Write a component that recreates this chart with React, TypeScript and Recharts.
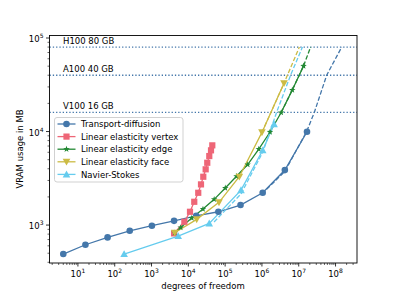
import React from "react";
import { ComposedChart, Line, XAxis, YAxis, ReferenceLine } from "recharts";

const FONT = "DejaVu Sans, sans-serif";

// Transport-diffusion
const tdDof = [4, 16, 64, 256, 1024, 4096, 16384, 65536, 262144, 1048576, 4194304, 16777216];
const tdMb = [490, 616, 738, 869, 984, 1110, 1255, 1388, 1636, 2213, 3872, 9950];
const tdFitDof = [1.0e6, 4.2e6, 1.64e7, 2.65e7, 5.75e7, 1.47e8];
const tdFitMb = [2150, 3750, 10000, 16000, 40000, 80000];

// Linear elasticity vertex
const levDof = [4100, 7800, 11100, 14500, 18600, 22100, 25500, 29600, 32700, 37100, 41300, 44800];
const levMb = [815, 1085, 1387, 1774, 2214, 2722, 3286, 3945, 4637, 5469, 6296, 7117];

// Linear elasticity edge
const leeDof = [4260, 6200, 12400, 25000, 50400, 101000, 204000, 410000, 822000, 1.66e6, 3.33e6, 6.68e6, 1.35e7];
const leeMb = [827, 940, 1188, 1483, 1883, 2490, 3325, 4436, 6500, 9886, 15960, 27800, 50200];
const leeFitDof = [3.33e6, 6.68e6, 1.35e7, 2.1e7];
const leeFitMb = [15960, 27800, 50200, 80000];

// Linear elasticity face
const lefDof = [4260, 16900, 68100, 243000, 1.0e6, 3.98e6];
const lefMb = [827, 1151, 1750, 3290, 9790, 32800];
const lefFitDof = [1.0e6, 3.98e6, 1.04e7];
const lefFitMb = [9790, 32800, 80000];

// Navier-Stokes
const nsDof = [180, 5300, 37000, 270000, 1.05e6, 2.14e6];
const nsMb = [490, 763, 1043, 2366, 6300, 12000];
const nsFitDof = [5e4, 2.7e5, 1.05e6, 2.5e6, 6e6, 1.26e7];
const nsFitMb = [1080, 2150, 6000, 16000, 40000, 80000];

const gpuNames = ["V100 16 GB", "A100 40 GB", "H100 80 GB"];
const gpuMb = [16000, 40000, 80000];

const X_DOMAIN = [1.69, 3.83e8];
const Y_DOMAIN = [393, 107700];

const xDecades = [1, 10, 100, 1e3, 1e4, 1e5, 1e6, 1e7, 1e8];
const yDecades = [100, 1e3, 1e4, 1e5];

const pts = (dof: number[], mb: number[]) => dof.map((x, i) => ({ x, y: mb[i] }));

const series = [
  { name: "Transport-diffusion", color: "#4477AA", shape: "circle", data: pts(tdDof, tdMb), fit: pts(tdFitDof, tdFitMb) },
  { name: "Linear elasticity vertex", color: "#EE6677", shape: "square", data: pts(levDof, levMb), fit: null },
  { name: "Linear elasticity edge", color: "#228833", shape: "star", data: pts(leeDof, leeMb), fit: pts(leeFitDof, leeFitMb) },
  { name: "Linear elasticity face", color: "#CCBB44", shape: "triDown", data: pts(lefDof, lefMb), fit: pts(lefFitDof, lefFitMb) },
  { name: "Navier-Stokes", color: "#66CCEE", shape: "triUp", data: pts(nsDof, nsMb), fit: pts(nsFitDof, nsFitMb) },
];

function logTicks(decades: number[], lo: number, hi: number) {
  const out: number[] = [];
  decades.forEach((d) => {
    for (let k = 1; k <= 9; k++) {
      const v = k * d;
      if (v >= lo && v <= hi) out.push(v);
    }
  });
  return out;
}

const xTicks = logTicks(xDecades, X_DOMAIN[0], X_DOMAIN[1]);
const yTicks = logTicks(yDecades, Y_DOMAIN[0], Y_DOMAIN[1]);

const exponent = (v: number) => {
  const e = Math.log10(v);
  return Math.abs(e - Math.round(e)) < 1e-9 ? Math.round(e) : null;
};

function Marker({ shape, cx, cy, color }: { shape: string; cx: number; cy: number; color: string }) {
  if (cx == null || cy == null) return null;
  if (shape === "circle") return <circle cx={cx} cy={cy} r={3.3} fill={color} />;
  if (shape === "square") return <rect x={cx - 3.1} y={cy - 3.1} width={6.2} height={6.2} fill={color} />;
  if (shape === "triDown") {
    const r = 3.8;
    return <polygon points={`${cx - r},${cy - r * 0.8} ${cx + r},${cy - r * 0.8} ${cx},${cy + r}`} fill={color} />;
  }
  if (shape === "triUp") {
    const r = 3.8;
    return <polygon points={`${cx - r},${cy + r * 0.8} ${cx + r},${cy + r * 0.8} ${cx},${cy - r}`} fill={color} />;
  }
  const p: string[] = [];
  for (let i = 0; i < 10; i++) {
    const a = -Math.PI / 2 + (i * Math.PI) / 5;
    const r = i % 2 === 0 ? 3.4 : 1.4;
    p.push(`${cx + r * Math.cos(a)},${cy + r * Math.sin(a)}`);
  }
  return <polygon points={p.join(" ")} fill={color} />;
}

const XTick = (props: any) => {
  const { x, y, payload } = props;
  const e = exponent(payload.value);
  return (
    <g>
      <line x1={x} x2={x} y1={y} y2={y + (e !== null ? 3.5 : 2)} stroke="#000" strokeWidth={e !== null ? 0.8 : 0.6} />
      {e !== null && (
        <text x={x} y={y + 13.5} textAnchor="middle" fontSize={8.5} fontFamily={FONT} fill="#000">
          10<tspan dy={-3.6} fontSize={6}>{e}</tspan>
        </text>
      )}
    </g>
  );
};

const YTick = (props: any) => {
  const { x, y, payload } = props;
  const e = exponent(payload.value);
  return (
    <g>
      <line x1={x - (e !== null ? 3.5 : 2)} x2={x} y1={y} y2={y} stroke="#000" strokeWidth={e !== null ? 0.8 : 0.6} />
      {e !== null && (
        <text x={x - 6} y={y + 4} textAnchor="end" fontSize={8.5} fontFamily={FONT} fill="#000">
          10<tspan dy={-3.6} fontSize={6}>{e}</tspan>
        </text>
      )}
    </g>
  );
};

const GpuLabel = (props: any) => {
  const vb = props.viewBox || {};
  return (
    <text x={vb.x + 13.5} y={vb.y - 3.3} fontSize={8.5} fontFamily={FONT} fill="#000">
      {props.text}
    </text>
  );
};

export default function App() {
  return (
    <div style={{ position: "absolute", left: 0, top: 0, width: 396, height: 297, background: "#fff" }}>
      <ComposedChart width={396} height={297} margin={{ top: 35, right: 39, bottom: 0, left: 0 }}>
        <XAxis
          dataKey="x"
          type="number"
          scale="log"
          domain={X_DOMAIN}
          allowDataOverflow
          ticks={xTicks}
          interval={0}
          tick={(p: any) => <XTick {...p} />}
          tickLine={false}
          axisLine={false}
          tickSize={0}
          tickMargin={0}
          height={34}
        />
        <YAxis
          dataKey="y"
          type="number"
          scale="log"
          domain={Y_DOMAIN}
          allowDataOverflow
          ticks={yTicks}
          interval={0}
          tick={(p: any) => <YTick {...p} />}
          tickLine={false}
          axisLine={false}
          tickSize={0}
          tickMargin={0}
          width={49.5}
        />
        {gpuMb.map((mb, i) => (
          <ReferenceLine
            key={gpuNames[i]}
            y={mb}
            stroke="#4477AA"
            strokeWidth={1.3}
            strokeDasharray="1.3 2"
            label={<GpuLabel text={gpuNames[i]} />}
          />
        ))}
        {series.map((s) => (
          <Line
            key={s.name}
            data={s.data}
            dataKey="y"
            type="linear"
            stroke={s.color}
            strokeWidth={1.3}
            isAnimationActive={false}
            activeDot={false}
            dot={(p: any) => <Marker key={`${s.name}-${p.index}`} shape={s.shape} cx={p.cx} cy={p.cy} color={s.color} />}
          />
        ))}
        {series
          .filter((s) => s.fit)
          .map((s) => (
            <Line
              key={`${s.name}-fit`}
              data={s.fit as any}
              dataKey="y"
              type="linear"
              stroke={s.color}
              strokeWidth={1.3}
              strokeDasharray="4.5 2"
              isAnimationActive={false}
              activeDot={false}
              dot={false}
            />
          ))}
      </ComposedChart>
      <svg width={396} height={297} style={{ position: "absolute", left: 0, top: 0, pointerEvents: "none" }}>
        <rect x={49.5} y={35.5} width={307.5} height={227.5} fill="none" stroke="#000" strokeWidth={0.9} />
        <rect x={54.5} y={117.5} width={128.5} height={64.5} rx={2.5} fill="#fff" fillOpacity={0.8} stroke="#cccccc" strokeWidth={0.9} />
        {series.map((s, i) => {
          const cy = 124 + i * 12.6;
          return (
            <g key={s.name}>
              <line x1={57.5} x2={75.5} y1={cy} y2={cy} stroke={s.color} strokeWidth={1.3} />
              <Marker shape={s.shape} cx={66.5} cy={cy} color={s.color} />
              <text x={81} y={cy + 3.1} fontSize={8.5} fontFamily={FONT} fill="#000">
                {s.name}
              </text>
            </g>
          );
        })}
        <text
          x={22.5}
          y={149}
          transform="rotate(-90 22.5 149)"
          textAnchor="middle"
          fontSize={8.5}
          fontFamily={FONT}
          fill="#000"
        >
          VRAM usage in MB
        </text>
        <text x={203} y={288.5} textAnchor="middle" fontSize={8.5} fontFamily={FONT} fill="#000">
          degrees of freedom
        </text>
      </svg>
    </div>
  );
}
